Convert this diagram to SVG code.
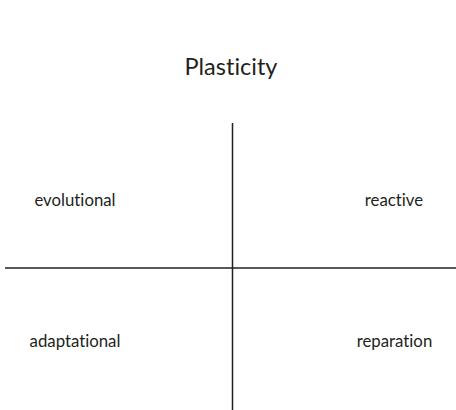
<svg xmlns="http://www.w3.org/2000/svg" width="456" height="410" viewBox="0 0 456 410">
<style>
text{font-family:Lato,"Open Sans","Liberation Sans",sans-serif;fill:#231f20;text-anchor:middle;font-variant-ligatures:none;font-feature-settings:"liga" 0}
.lbl{font-size:16.8px}
.title{font-size:23.5px}
.axis{stroke:#231f20;stroke-width:1.5;fill:none}
</style>
<rect width="456" height="410" fill="#fff"/>
<g id="connectors">
<line class="axis" x1="232.5" y1="123" x2="232.5" y2="410"/>
<line class="axis" x1="5" y1="268" x2="456" y2="268"/>
</g>
<g id="title"><text class="title" x="231" y="75">Plasticity</text></g>
<g id="evolutional"><text class="lbl" x="75" y="206">evolutional</text></g>
<g id="reactive"><text class="lbl" x="394" y="206">reactive</text></g>
<g id="adaptational"><text class="lbl" x="75" y="347">adaptational</text></g>
<g id="reparation"><text class="lbl" x="394.5" y="347">reparation</text></g>
</svg>
